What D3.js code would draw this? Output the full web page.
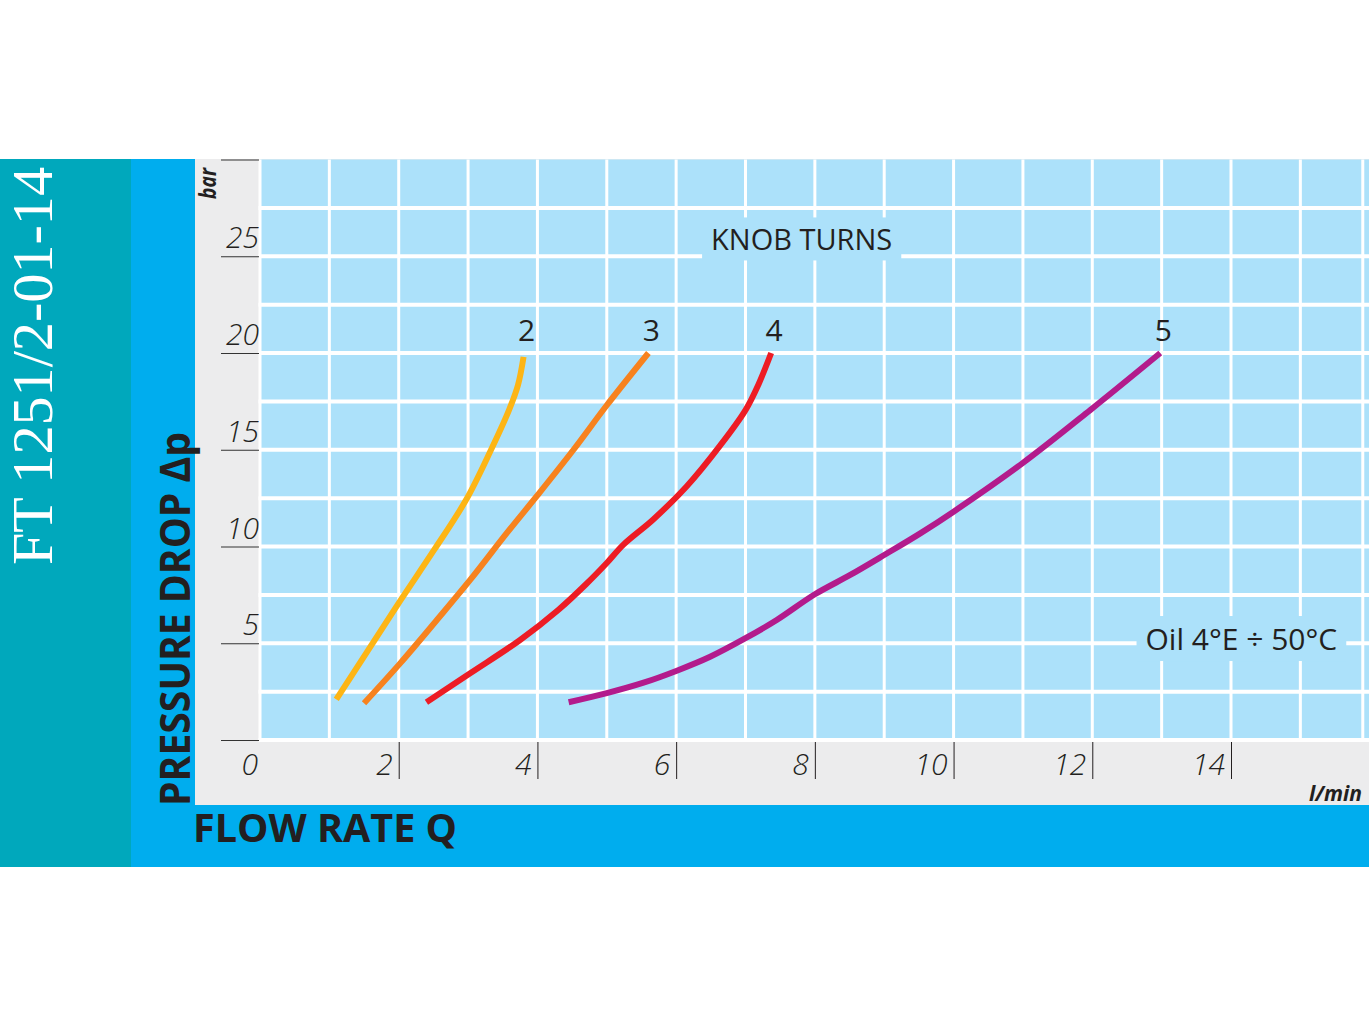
<!DOCTYPE html>
<meta charset="utf-8">
<style>
body{
	margin:0;
	background:#fff;
}
svg text{
	font-family:"Open Sans", sans-serif;
	fill:#231f20;
}
.tick-label{ font-size:30px; font-style:italic; font-weight:300; }
.curve{ fill:none; stroke-width:6px; stroke-linecap:butt; }
.grid line{ stroke:#fff; }
</style>
<body>
<script src="https://cdn.jsdelivr.net/npm/d3@7"></script>
<script>
// flow rate Q (l/min) / pressure drop (bar), one pair per knob setting
var turns = ["2","3","4","5"];
var flow2 = [1.10, 1.56, 2.03, 2.51, 2.97, 3.33, 3.59, 3.72, 3.80];
var drop2 = [2.1, 4.65, 7.24, 9.82, 12.4, 14.99, 17.05, 18.35, 19.8];
var flow3 = [1.50, 2.02, 2.55, 3.03, 3.56, 3.99, 4.52, 5.00, 5.60];
var drop3 = [1.9, 3.96, 6.2, 8.27, 10.7, 12.6, 15.0, 17.3, 20.0];
var flow4 = [2.40, 3.03, 3.75, 4.30, 4.70, 5.00, 5.24, 5.67, 6.15, 6.63, 7.00, 7.19, 7.37];
var drop4 = [1.95, 3.45, 5.17, 6.72, 8.05, 9.15, 10.1, 11.4, 13.1, 15.2, 17.05, 18.4, 20.0];
var flow5 = [4.45, 5.00, 5.53, 6.01, 6.49, 7.00, 7.45, 8.00, 8.51, 9.00, 9.52, 10.00, 11.00, 11.97, 12.98];
var drop5 = [1.95, 2.42, 2.96, 3.58, 4.30, 5.26, 6.20, 7.53, 8.53, 9.56, 10.68, 11.8, 14.32, 17.05, 20.0];
var colors = ["#fdb515", "#f7821e", "#ed1c24", "#b31b8c"];

var xTicks = [0, 2, 4, 6, 8, 10, 12, 14];
var yTicks = [5, 10, 15, 20, 25];
var yTickLines = [0, 5, 10, 15, 20, 25, 30];

var series = [
	{turn:turns[0], flow:flow2, drop:drop2, color:colors[0]},
	{turn:turns[1], flow:flow3, drop:drop3, color:colors[1]},
	{turn:turns[2], flow:flow4, drop:drop4, color:colors[2]},
	{turn:turns[3], flow:flow5, drop:drop5, color:colors[3]}
];

var width = 1369, height = 1027;
var x = d3.scaleLinear().domain([0,14]).range([260,1231]);
var y = d3.scaleLinear().domain([0,20]).range([740,353]);

var svg = d3.select("body").append("svg")
	.attr("width",width).attr("height",height);

// coloured panels
svg.append("rect").attr("x",0).attr("y",159).attr("width",131).attr("height",708).attr("fill","#00a8bc");
svg.append("rect").attr("x",131).attr("y",159).attr("width",width-131).attr("height",708).attr("fill","#00adee");
svg.append("rect").attr("x",195).attr("y",159).attr("width",width-195).attr("height",646).attr("fill","#ececed");

// plot background + grid
svg.append("rect")
	.attr("x",x(0)).attr("y",y(30))
	.attr("width",x(16)-x(0)).attr("height",y(0)-y(30))
	.attr("fill","#ace1fa");

var grid = svg.append("g").attr("class","grid");
grid.selectAll(".gv").data(d3.range(0,16).concat([15.9])).enter().append("line")
	.attr("x1",function(d){ return x(d); }).attr("x2",function(d){ return x(d); })
	.attr("y1",y(30)).attr("y2",y(0))
	.style("stroke-width",3);
grid.selectAll(".gh").data(d3.range(0,30,2.5)).enter().append("line")
	.attr("x1",x(0)-1.5).attr("x2",x(16))
	.attr("y1",function(d){ return y(d); }).attr("y2",function(d){ return y(d); })
	.style("stroke-width",4);

// y ticks
svg.selectAll(".ytl").data(yTickLines).enter().append("line")
	.attr("x1",221).attr("x2",x(0)-1)
	.attr("y1",function(d){ return y(d)+0.5; }).attr("y2",function(d){ return y(d)+0.5; })
	.attr("stroke","#333").attr("stroke-width",1);
svg.selectAll(".ylab").data(yTicks).enter().append("text")
	.attr("class","tick-label")
	.attr("x",259).attr("y",function(d){ return y(d)-8; })
	.attr("text-anchor","end")
	.text(function(d){ return d; });

// x ticks
svg.selectAll(".xtl").data(xTicks.slice(1)).enter().append("line")
	.attr("x1",function(d){ return x(d)+0.5; }).attr("x2",function(d){ return x(d)+0.5; })
	.attr("y1",y(0)+2).attr("y2",779)
	.attr("stroke","#231f20").attr("stroke-width",1);
svg.selectAll(".xlab").data(xTicks).enter().append("text")
	.attr("class","tick-label")
	.attr("x",function(d){ return d === 0 ? x(d)-2 : x(d)-6; }).attr("y",775)
	.attr("text-anchor","end")
	.text(function(d){ return d; });

// curves
var line = d3.line()
	.x(function(d){ return x(d[0]); })
	.y(function(d){ return y(d[1]); })
	.curve(d3.curveCatmullRom.alpha(0.5));

series.forEach(function(s){
	var pts = s.flow.map(function(q,i){ return [q, s.drop[i]]; });
	svg.append("path").attr("class","curve")
		.attr("d",line(pts))
		.style("stroke",s.color);
	svg.append("text")
		.attr("x",x(s.flow[s.flow.length-1])+3).attr("y",y(20)-12)
		.attr("text-anchor","middle")
		.style("font-size","30px")
		.text(s.turn);
});

// boxed notes
function note(txt, q, p, size){
	var g = svg.append("g");
	var t = g.append("text")
		.attr("x",x(q)).attr("y",y(p))
		.attr("text-anchor","middle")
		.style("font-size",size+"px")
		.text(txt);
	var b = t.node().getBBox();
	g.insert("rect","text")
		.attr("x",b.x-9).attr("y",b.y-2)
		.attr("width",b.width+18).attr("height",b.height+4)
		.attr("fill","#ace1fa");
}
note("KNOB TURNS", 7.81, 25.3, 29);
note("Oil 4°E ÷ 50°C", 14.15, 4.65, 30);

// axis titles
svg.append("text")
	.attr("transform","translate(190,806) rotate(-90)")
	.attr("textLength",374).attr("lengthAdjust","spacingAndGlyphs")
	.style("font-size","42px").style("font-weight","bold")
	.text("PRESSURE DROP Δp");
svg.append("text")
	.attr("transform","translate(216,199) rotate(-90)")
	.attr("textLength",31).attr("lengthAdjust","spacingAndGlyphs")
	.style("font-size","24px").style("font-weight","bold").style("font-style","italic")
	.text("bar");
svg.append("text")
	.attr("x",193).attr("y",842)
	.attr("textLength",264).attr("lengthAdjust","spacingAndGlyphs")
	.style("font-size","40px").style("font-weight","bold")
	.text("FLOW RATE Q");
svg.append("text")
	.attr("x",1362).attr("y",801)
	.attr("text-anchor","end")
	.style("font-size","21px").style("font-weight","bold").style("font-style","italic")
	.text("l/min");

// model code on the side panel
svg.append("text")
	.attr("transform","translate(52,565) rotate(-90)")
	.attr("textLength",398).attr("lengthAdjust","spacingAndGlyphs")
	.style("font-family","'Liberation Serif', serif").style("font-size","56px")
	.style("fill","#fff")
	.text("FT 1251/2-01-14");
</script>
</body>
